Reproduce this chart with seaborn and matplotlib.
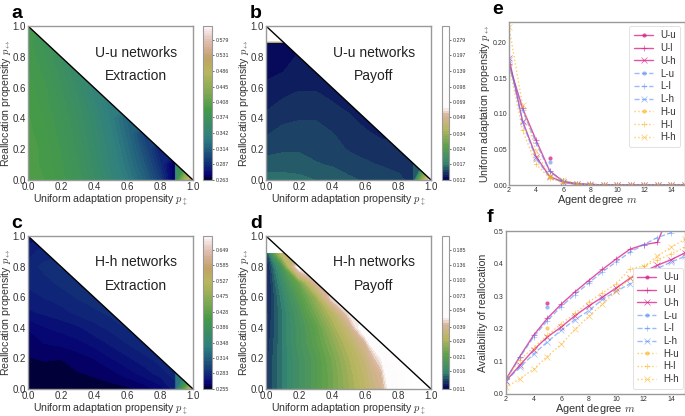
import numpy as np
import pandas as pd
import matplotlib
matplotlib.use("Agg")
import matplotlib.pyplot as plt
from matplotlib.colors import LinearSegmentedColormap, LogNorm
from matplotlib.patches import Polygon
import seaborn as sns

sns.set_style("white")
plt.rcParams["font.family"] = ["Liberation Sans", "DejaVu Sans"]
plt.rcParams["mathtext.fontset"] = "cm"

# sampling of the propensity plane, closer around the jump near 0.9
x_grid = [0, .1, .2, .3, .4, .5, .6, .7, .8, .89, .9, .95, 1]
y_grid = [0, .1, .2, .3, .4, .5, .6, .7, .8, .89, .9, 1]

# each row is one y_grid value, read left to right up to the diagonal
extract_uu = [
    [.398, .394, .386, .375, .362, .348, .333, .316, .296, .264, .37, .46, .54],
    [.398, .392, .384, .373, .359, .344, .328, .310, .288, .264, .37],
    [.398, .392, .382, .370, .357, .342, .324, .304, .283],
    [.396, .390, .380, .368, .355, .338, .320, .298],
    [.395, .388, .378, .366, .352, .335, .316],
    [.393, .386, .375, .363, .347, .332],
    [.391, .384, .372, .359, .343],
    [.389, .381, .369, .355],
    [.387, .378, .365],
    [.385, .376],
    [.385, .374],
    [.383],
]
payoff_uu = [
    [.0165, .0165, .0163, .0160, .0158, .0153, .0150, .0148, .0145, .0140, .0160, .0340, .0650],
    [.0155, .0155, .0155, .0152, .0150, .0147, .0144, .0142, .0140, .0138, .0160],
    [.0148, .0150, .0150, .0148, .0146, .0142, .0140, .0138, .0136],
    [.0142, .0145, .0147, .0147, .0143, .0140, .0136, .0133],
    [.0137, .0141, .0142, .0142, .0140, .0136, .0132],
    [.0132, .0136, .0137, .0137, .0135, .0132],
    [.0129, .0131, .0134, .0134, .0132],
    [.0125, .0127, .0130, .0131],
    [.0122, .0124, .0128],
    [.0120, .0126],
    [.0500, .0500],
    [.3000],
]
extract_hh = [
    [.2565, .2550, .2552, .2565, .2570, .2575, .2580, .2610, .2660, .2750, .33, .43, .56],
    [.2585, .2570, .2575, .2590, .2600, .2620, .2660, .2700, .2750, .2800, .33],
    [.2590, .2600, .2595, .2615, .2640, .2680, .2720, .2760, .2800],
    [.2620, .2640, .2650, .2670, .2700, .2740, .2780, .2820],
    [.2640, .2680, .2700, .2720, .2760, .2790, .2830],
    [.2720, .2740, .2760, .2790, .2810, .2840],
    [.2760, .2780, .2800, .2830, .2860],
    [.2790, .2810, .2840, .2870],
    [.2800, .2840, .2880],
    [.2760, .2800],
    [.2760, .2800],
    [.2700],
]
payoff_hh = [
    [.0125, .0150, .0175, .0200, .0235, .0275, .0320, .0380, .0600, .2000, .2000, .2000, .2000],
    [.0125, .0150, .0175, .0200, .0235, .0280, .0330, .0400, .0700, .2000, .2000],
    [.0125, .0150, .0175, .0200, .0240, .0290, .0345, .0470, .1200],
    [.0122, .0150, .0180, .0210, .0255, .0310, .0390, .0700],
    [.0120, .0150, .0180, .0215, .0275, .0350, .0550],
    [.0118, .0150, .0185, .0240, .0310, .0450],
    [.0115, .0155, .0200, .0270, .0450],
    [.0113, .0165, .0230, .0400],
    [.0112, .0185, .0500],
    [.0110, .0340],
    [.2000, .2000],
    [.2000],
]

bar_uu_x = [.263, .287, .314, .342, .374, .408, .445, .486, .531, .579]
bar_uu_p = [.012, .017, .024, .034, .049, .069, .098, .139, .197, .279]
bar_hh_x = [.255, .283, .314, .348, .386, .428, .475, .527, .585, .649]
bar_hh_p = [.011, .016, .021, .029, .039, .054, .073, .100, .136, .185]

degree = list(range(2, 16))
adapt_ul = [.170, .108, .063, .020, .005, .002, .001, 0, 0, 0, 0, 0, 0, 0]
adapt_uh = [.178, .090, .040, .012, .004, .001, 0, 0, 0, 0, 0, 0, 0, 0]
adapt_ll = [.168, .105, .059, .019, .005, .002, .001, 0, 0, 0, 0, 0, 0, 0]
adapt_lh = [.175, .088, .037, .011, .004, .001, 0, 0, 0, 0, 0, 0, 0, 0]
adapt_hl = [.169, .077, .029, .010, .003, .001, 0, 0, 0, 0, 0, 0, 0, 0]
adapt_hh = [.222, .112, .048, .012, .007, .002, .001, 0, 0, 0, 0, 0, 0, 0]
adapt_u = [.038, .032, .011]

avail_ul = [.045, .115, .180, .232, .275, .313, .348, .382, .414, .444, .458, .465, .570, .640]
avail_uh = [.040, .088, .135, .175, .205, .240, .270, .297, .325, .355, .375, .395, .412, .433]
avail_ll = [.045, .112, .175, .225, .268, .305, .340, .375, .405, .435, .458, .480, .495, .515]
avail_lh = [.040, .082, .122, .160, .195, .228, .255, .290, .315, .338, .360, .385, .405, .422]
avail_hl = [.045, .105, .142, .180, .215, .247, .282, .310, .338, .384, .392, .410, .430, .450]
avail_hh = [.020, .047, .076, .115, .152, .198, .238, .275, .315, .355, .390, .423, .450, .475]
avail_u = [.280, .267, .203]

COLORS = {"U": "#d81b84", "L": "#5b8ff9", "H": "#ffae1a"}
ALPHAS = {"U": .75, "L": .6, "H": .65}
STYLES = {"U": "-", "L": "--", "H": ":"}
GREY = "#999999"
TEXT = "#333333"
W, H = 685, 416


def make_axes(left, top, right, bottom):
    return fig.add_axes([left / W, 1 - bottom / H, (right - left) / W, (bottom - top) / H])


def triangle(ax, rows, ticks, box, cmap, title):
    # values past the diagonal only repeat the row's last value, the clip hides them
    z = pd.DataFrame(rows, columns=x_grid).ffill(axis=1).to_numpy()
    levels = np.geomspace(ticks[0], ticks[-1] * (ticks[-1] / ticks[-2]) ** .9, 61)
    z = np.clip(z, levels[0] * 1.0001, levels[-1] * .9999)
    cs = ax.contourf(x_grid, y_grid, z, levels=levels, cmap=cmap, norm=LogNorm(levels[0], levels[-1]))
    clip = Polygon([[0, 0], [1, 0], [0, 1]], transform=ax.transData)
    cs.set_clip_path(clip)
    ax.plot([0, 1], [1, 0], color="black", lw=1)
    ax.set_xlim(0, 1)
    ax.set_ylim(0, 1)
    ax.set_xticks(np.arange(0, 1.01, .2))
    ax.set_yticks(np.arange(0, 1.01, .2))
    ax.tick_params(labelsize=7, colors=TEXT, length=0, pad=1.5)
    ax.set_xlabel(r"Uniform adaptation propensity $p_{\updownarrow}$", fontsize=7.6, color=TEXT, labelpad=0.5)
    ax.set_ylabel(r"Reallocation propensity $p_{\leftrightarrow}$", fontsize=7.6, color=TEXT, labelpad=-0.5)
    for s in ax.spines.values():
        s.set_color(GREY)
        s.set_linewidth(1)
    ax.text(.652, .827, title[0], fontsize=10, color="#222222", ha="center", va="center")
    ax.text(.652, .675, title[1], fontsize=10, color="#222222", ha="center", va="center")
    cax = make_axes(*box)
    cb = fig.colorbar(cs, cax=cax, spacing="proportional")
    cb.set_ticks(ticks, labels=[f"{t:.3f}" for t in ticks])
    cb.ax.minorticks_off()
    cb.ax.tick_params(labelsize=3.8, colors=TEXT, length=1.5, width=.5, pad=1)
    cb.outline.set_edgecolor(GREY)
    cb.outline.set_linewidth(.8)


def lines(ax, curves, points, ylabel, ymax, yticks, fmt, leg_anchor, ypad):
    for grp, u in zip("ULH", points):
        color = COLORS[grp]
        sns.lineplot(x=[5], y=[u], ax=ax, color=color, alpha=ALPHAS[grp], marker="o", markersize=3,
                     markeredgewidth=0, linestyle=STYLES[grp], lw=1, label=f"{grp}-u")
        for kind, mark in (("l", "+"), ("h", "x")):
            sns.lineplot(x=degree, y=curves[grp + kind], ax=ax, color=color, alpha=ALPHAS[grp], marker=mark,
                         markersize=4, markeredgewidth=.5, markeredgecolor=color, linestyle=STYLES[grp],
                         lw=1, label=f"{grp}-{kind}")
    ax.set_xlim(2, 15)
    ax.set_ylim(0, ymax)
    ax.set_xticks(range(2, 15, 2))
    ax.set_yticks(yticks, labels=[fmt.format(t) for t in yticks])
    ax.tick_params(labelsize=5, colors=TEXT, length=0, pad=1.5)
    ax.set_xlabel(r"Agent degree $m$", fontsize=7.9, color=TEXT, labelpad=-1)
    ax.set_ylabel(ylabel, fontsize=7.6, color=TEXT, labelpad=ypad)
    for s in ax.spines.values():
        s.set_color(GREY)
        s.set_linewidth(1)
    leg = ax.legend(loc="upper right", bbox_to_anchor=leg_anchor, fontsize=7, frameon=True, framealpha=1,
                    edgecolor="#dddddd", borderpad=.45, labelspacing=.28, handlelength=2.0, handletextpad=.7,
                    borderaxespad=0)
    leg.get_frame().set_linewidth(.6)
    for t in leg.get_texts():
        t.set_color(TEXT)


gist = plt.get_cmap("gist_earth")
full_cmap = gist
# payoff panels squeeze the colours in the lower part of the bar, the rest is white
squeezed = LinearSegmentedColormap.from_list(
    "squeezed",
    [(0, gist(0.02)), (.11, gist(.33)), (.22, gist(.5)), (.33, gist(.7)), (.42, gist(.87)), (.47, gist(1.0)),
     (1, (1, 1, 1, 1))],
    N=256)

fig = plt.figure(figsize=(W / 100, H / 100), dpi=100)

ax_a = make_axes(28, 26, 193, 180)
ax_b = make_axes(266, 26, 431, 180)
ax_c = make_axes(28, 236, 193, 389)
ax_d = make_axes(266, 236, 431, 389)
triangle(ax_a, extract_uu, bar_uu_x, (203, 26, 212, 180), full_cmap, ("U-u networks", "Extraction"))
triangle(ax_b, payoff_uu, bar_uu_p, (442, 26, 449, 180), squeezed, ("U-u networks", "Payoff"))
triangle(ax_c, extract_hh, bar_hh_x, (203, 236, 212, 389), full_cmap, ("H-h networks", "Extraction"))
triangle(ax_d, payoff_hh, bar_hh_p, (442, 236, 449, 389), squeezed, ("H-h networks", "Payoff"))

ax_e = make_axes(509, 22, 685, 185)
ax_f = make_axes(506, 231, 685, 394)
lines(ax_e, {"Ul": adapt_ul, "Uh": adapt_uh, "Ll": adapt_ll, "Lh": adapt_lh, "Hl": adapt_hl, "Hh": adapt_hh},
      adapt_u, r"Uniform adaptation propensity $p_{\leftrightarrow}$", .229,
      [0, .05, .10, .15, .20], "{:.2f}", (.972, .975), 1)
lines(ax_f, {"Ul": avail_ul, "Uh": avail_uh, "Ll": avail_ll, "Lh": avail_lh, "Hl": avail_hl, "Hh": avail_hh},
      avail_u, "Availability of reallocation", .5, [0, .1, .2, .3, .4, .5], "{:.1f}", (.99, .773), 4)

for letter, x, y in [("a", 11, 18), ("b", 250, 18), ("c", 11, 228), ("d", 250, 228), ("e", 492, 14), ("f", 487, 222)]:
    fig.text(x / W, 1 - y / H, letter, fontsize=14, fontweight="bold", color="black", va="baseline")

fig.savefig("out.png", dpi=100)
